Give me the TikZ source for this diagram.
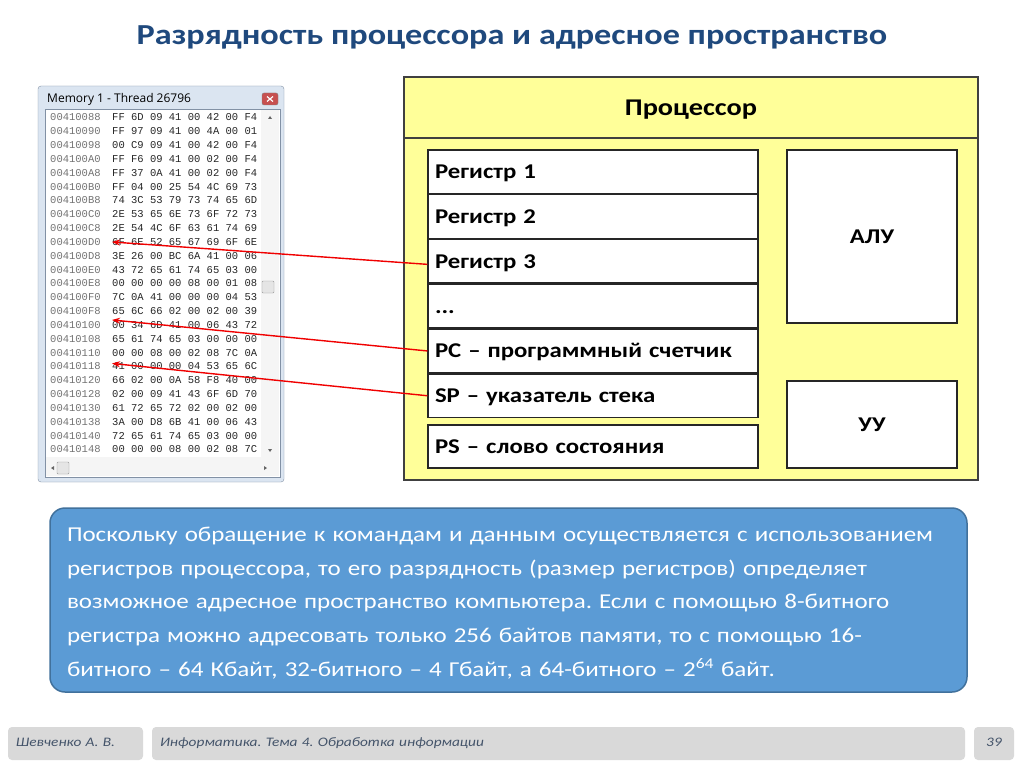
\documentclass[tikz,border=0pt]{standalone}
\usepackage{fontspec}
\setmainfont{Carlito}[FakeStretch=1.18]
\newfontfamily\hexfont{Liberation Mono}
\newfontfamily\winfont{Open Sans}
\frenchspacing
\usetikzlibrary{arrows.meta,positioning}
\definecolor{sltitle}{RGB}{31,73,125}
\definecolor{slyellow}{RGB}{255,255,153}
\definecolor{slblue}{RGB}{91,155,213}
\definecolor{slblueline}{RGB}{65,113,156}
\definecolor{slfoot}{RGB}{217,217,217}
\definecolor{slfoottext}{RGB}{68,84,106}
\definecolor{winframe}{RGB}{219,229,241}
\definecolor{winline}{RGB}{130,145,165}
\definecolor{winclose}{RGB}{199,80,80}
\definecolor{ptrred}{RGB}{240,0,0}

\begin{document}
\begin{tikzpicture}[x=1pt, y=-1pt,
  regbox/.style={draw=black!85, fill=white, line width=1.3pt, minimum width=330, minimum height=43.5,
    text width=316, text height=16, text depth=2, align=left, inner xsep=7,
    font=\fontsize{21}{24}\selectfont\bfseries},
  unitbox/.style={draw=black!85, fill=white, line width=1.3pt, minimum width=170,
    font=\fontsize{21}{24}\selectfont\bfseries},
  ptr/.style={ptrred, line width=1.4pt, -{Stealth[length=8pt,width=6pt]}},
  footbox/.style={fill=slfoot, rounded corners=4, minimum height=33, text height=9, text depth=3,
    text=slfoottext, font=\fontsize{13}{15}\selectfont\itshape},
  hexadr/.style={anchor=west, inner sep=0, text=black!55, font=\hexfont\fontsize{10.5}{12}\selectfont},
  hexval/.style={anchor=west, inner sep=0, text=black!85, font=\hexfont\fontsize{10.5}{12}\selectfont}]
\useasboundingbox[fill=white] (0,0) rectangle (1024,767);

% title
\node[text=sltitle, font=\fontsize{29}{32}\selectfont\bfseries] (title) at (512,37) {Разрядность процессора и адресное пространство};

% memory window
\draw[winline, fill=winframe, rounded corners=3] (38,86) rectangle (284,482);
\node[anchor=west, inner sep=0, font=\winfont\fontsize{12}{14}\selectfont] (wintitle) at (47,99) {Memory 1 - Thread 26796};
\draw[black!50, fill=winclose, rounded corners=2] (262,93) rectangle (278,105);
\draw[white, line width=1.2pt] (267,96.5) -- (273,101.5) (267,101.5) -- (273,96.5);
\draw[winline, fill=white] (45,109) rectangle (280,477);
\fill[black!4] (261,110) rectangle (279,457);
\fill[black!4] (46,457) rectangle (279,476);
\draw[black!40, fill=black!10, rounded corners=1] (262,281) rectangle (274,293);
\draw[black!40, fill=black!10, rounded corners=1] (57,462) rectangle (69,474);
\fill[black!60] (268,119) -- (272,119) -- (270,116) -- cycle;
\fill[black!60] (268,449) -- (272,449) -- (270,452) -- cycle;
\fill[black!60] (54,466) -- (54,470) -- (51,468) -- cycle;
\fill[black!60] (264,466) -- (264,470) -- (267,468) -- cycle;
\foreach \adr/\hex [count=\i from 0] in {
  00410088/FF 6D 09 41 00 42 00 F4, 00410090/FF 97 09 41 00 4A 00 01,
  00410098/00 C9 09 41 00 42 00 F4, 004100A0/FF F6 09 41 00 02 00 F4,
  004100A8/FF 37 0A 41 00 02 00 F4, 004100B0/FF 04 00 25 54 4C 69 73,
  004100B8/74 3C 53 79 73 74 65 6D, 004100C0/2E 53 65 6E 73 6F 72 73,
  004100C8/2E 54 4C 6F 63 61 74 69, 004100D0/6F 6E 52 65 67 69 6F 6E,
  004100D8/3E 26 00 BC 6A 41 00 06, 004100E0/43 72 65 61 74 65 03 00,
  004100E8/00 00 00 00 08 00 01 08, 004100F0/7C 0A 41 00 00 00 04 53,
  004100F8/65 6C 66 02 00 02 00 39, 00410100/00 34 6D 41 00 06 43 72,
  00410108/65 61 74 65 03 00 00 00, 00410110/00 00 08 00 02 08 7C 0A,
  00410118/41 00 00 00 04 53 65 6C, 00410120/66 02 00 0A 58 F8 40 00,
  00410128/02 00 09 41 43 6F 6D 70, 00410130/61 72 65 72 02 00 02 00,
  00410138/3A 00 D8 6B 41 00 06 43, 00410140/72 65 61 74 65 03 00 00,
  00410148/00 00 00 08 00 02 08 7C} {
  \node[hexadr] (adr\i) at (50,{117.5+13.83*\i}) {\adr};
  \node[hexval] (hex\i) at (112,{117.5+13.83*\i}) {\hex};
}

% processor
\node[draw=black!75, fill=slyellow, line width=1.6pt, minimum width=574, minimum height=403] (cpu) at (691,278.5) {};
\node[draw=black!75, line width=1.6pt, minimum width=574, minimum height=61, text height=18, text depth=2,
  font=\fontsize{24}{28}\selectfont\bfseries] (cpuname) at (691,107.5) {Процессор};
\node[regbox] (reg1) at (593,171.75) {Регистр 1};
\node[regbox, below=0pt of reg1] (reg2) {Регистр 2};
\node[regbox, below=0pt of reg2] (reg3) {Регистр 3};
\node[regbox, below=0pt of reg3] (regdots) {...};
\node[regbox, below=0pt of regdots] (regpc) {PC -- программный счетчик};
\node[regbox, below=0pt of regpc] (regsp) {SP -- указатель стека};
\node[regbox, minimum height=43] (regps) at (593,446.5) {PS -- слово состояния};
\node[unitbox, minimum height=173] (alu) at (872,236.5) {АЛУ};
\node[unitbox, minimum height=87] (cu) at (872,424.5) {УУ};

% pointers into memory
\draw[ptr] ([yshift=-3pt]reg3.west) -- (hex9.west);
\draw[ptr] (regpc.west) -- ([yshift=5pt]hex15.west);
\draw[ptr] (regsp.west) -- ([yshift=3pt]hex18.west);

% explanation
\node[fill=slblue, draw=slblueline, line width=1.5pt, rounded corners=15, minimum width=917, minimum height=184] (info) at (508.5,600) {};
\node[text width=883, inner sep=0, align=left, text=white, font=\fontsize{21.2}{33.7}\selectfont] (infotext) at ([yshift=-3pt]info.center)
  {Поскольку обращение к командам и данным осуществляется с использованием\\
   регистров процессора, то его разрядность (размер регистров) определяет\\
   возможное адресное пространство компьютера. Если с помощью 8-битного\\
   регистра можно адресовать только 256 байтов памяти, то с помощью 16-\\
   битного -- 64 Кбайт, 32-битного -- 4 Гбайт, а 64-битного -- 2\textsuperscript{64} байт.};

% footer
\node[footbox, minimum width=135, text width=119, align=left] (author) at (75.5,743.5) {Шевченко А. В.};
\node[footbox, minimum width=813, text width=797, align=left] (topic) at (558.5,743.5) {Информатика. Тема 4. Обработка информации};
\node[footbox, minimum width=40] (page) at (994,743.5) {39};
\end{tikzpicture}
\end{document}
